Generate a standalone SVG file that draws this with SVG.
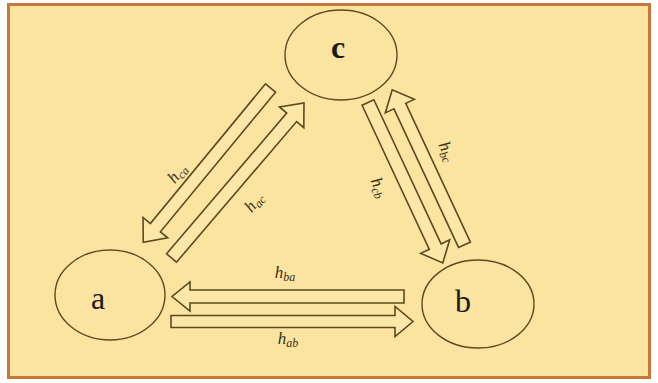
<svg xmlns="http://www.w3.org/2000/svg" width="658" height="383" viewBox="0 0 658 383">
<style>
.frame{fill:#FBE3A0;stroke:#C8793A;stroke-width:3}
.node{fill:none;stroke:#5B4A1E;stroke-width:1.4}
.arr{fill:#FCE6A8;stroke:#5B4A1E;stroke-width:1.6;stroke-linejoin:miter}
.nl{font-family:"Liberation Serif","DejaVu Serif",serif;font-size:32px;fill:#1a1a1a;text-anchor:middle}
.el{font-family:"Liberation Serif","DejaVu Serif",serif;font-style:italic;font-size:17px;fill:#3a3018;text-anchor:middle}
.sub{font-size:12px}
</style>
<rect width="658" height="383" fill="#ffffff"/>
<rect class="frame" x="8.5" y="4.5" width="641" height="373"/>
<g id="node-c">
<ellipse class="node" cx="341" cy="55" rx="56" ry="45"/>
<text class="nl" x="338" y="58" font-weight="bold">c</text>
</g>
<g id="node-a">
<ellipse class="node" cx="110" cy="295" rx="55" ry="45"/>
<text class="nl" x="98" y="309" font-size="34">a</text>
</g>
<g id="node-b">
<ellipse class="node" cx="478" cy="304" rx="56" ry="44"/>
<text class="nl" x="463" y="312">b</text>
</g>
<g id="connectors">
<g id="e-ca">
<path class="arr" transform="translate(270.5,88) rotate(129.5)" d="M0,-6.5 H181 V-16 L200,0 L181,16 V6.5 H0 Z"/>
<text class="el" transform="translate(178,174) rotate(-50)" x="0" y="4">h<tspan class="sub" dy="3">ca</tspan></text>
</g>
<g id="e-ac">
<path class="arr" transform="translate(171.5,258) rotate(-49.5)" d="M0,-6.5 H185 V-16 L204,0 L185,16 V6.5 H0 Z"/>
<text class="el" transform="translate(255,203) rotate(-50)" x="0" y="4">h<tspan class="sub" dy="3">ac</tspan></text>
</g>
<g id="e-cb">
<path class="arr" transform="translate(368,102.5) rotate(65)" d="M0,-6.5 H159 V-16 L177,0 L159,16 V6.5 H0 Z"/>
<text class="el" transform="translate(378,188) rotate(65)" x="0" y="4">h<tspan class="sub" dy="3">cb</tspan></text>
</g>
<g id="e-bc">
<path class="arr" transform="translate(464.5,244.8) rotate(-115)" d="M0,-6.5 H153 V-16 L171,0 L153,16 V6.5 H0 Z"/>
<text class="el" transform="translate(446,152) rotate(65)" x="0" y="4">h<tspan class="sub" dy="3">bc</tspan></text>
</g>
<g id="e-ba">
<path class="arr" transform="translate(404,296.5) rotate(180)" d="M0,-6.5 H214 V-14.5 L232,0 L214,14.5 V6.5 H0 Z"/>
<text class="el" x="285" y="278">h<tspan class="sub" dy="3">ba</tspan></text>
</g>
<g id="e-ab">
<path class="arr" transform="translate(171,321.5)" d="M0,-6 H224 V-15 L242,0 L224,15 V6 H0 Z"/>
<text class="el" x="288" y="344">h<tspan class="sub" dy="3">ab</tspan></text>
</g>
</g>
</svg>
